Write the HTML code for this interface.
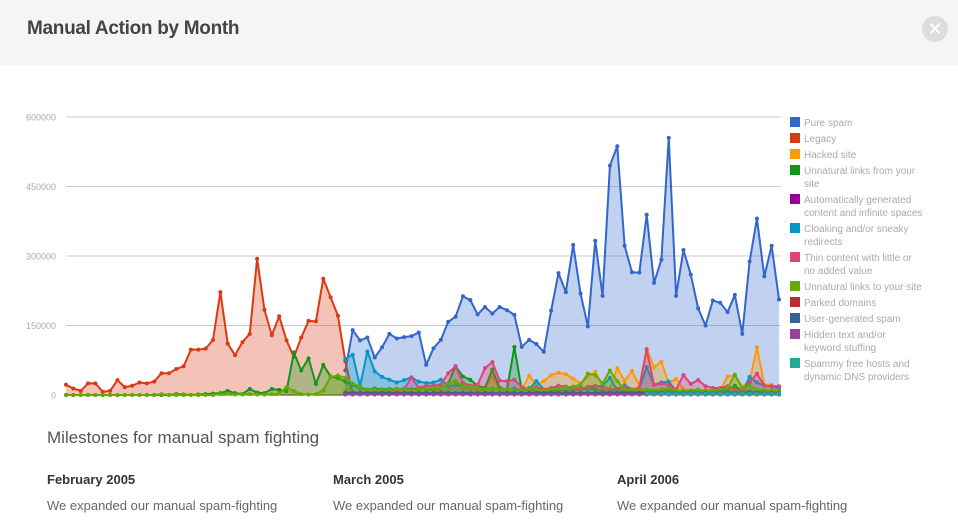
<!DOCTYPE html>
<html><head><meta charset="utf-8"><style>
body{margin:0;width:958px;height:527px;overflow:hidden;background:#fff;font-family:"Liberation Sans",sans-serif;position:relative}
#hdr{position:absolute;left:0;top:0;width:958px;height:65px;background:#f5f5f5}
#title{position:absolute;left:27px;top:18px;font-size:19px;font-weight:bold;color:#444;letter-spacing:-0.3px}
#close{position:absolute;left:922px;top:16px;width:26px;height:26px;border-radius:50%;background:#ddd;color:#fff;font-size:18px;line-height:26px;text-align:center}
#chart{position:absolute;left:0;top:0}
.ms{position:absolute;color:#555}
</style></head><body>
<div id="hdr">
<div id="title">Manual Action by Month</div>
<div id="close">✕</div>
</div>
<svg id="chart" width="958" height="410"></svg>
<div class="ms" style="left:47px;top:428px;font-size:17px;font-weight:300">Milestones for manual spam fighting</div>
<div class="ms" style="left:47px;top:472px;font-size:13px;font-weight:bold;color:#333">February 2005</div>
<div class="ms" style="left:333px;top:472px;font-size:13px;font-weight:bold;color:#333">March 2005</div>
<div class="ms" style="left:617px;top:472px;font-size:13px;font-weight:bold;color:#333">April 2006</div>
<div class="ms" style="left:47px;top:498px;font-size:13px;color:#666">We expanded our manual spam-fighting</div>
<div class="ms" style="left:333px;top:498px;font-size:13px;color:#666">We expanded our manual spam-fighting</div>
<div class="ms" style="left:617px;top:498px;font-size:13px;color:#666">We expanded our manual spam-fighting</div>
<script>
const yTicks=[0,150000,300000,450000,600000];
const seriesNames=["Pure spam","Legacy","Hacked site","Unnatural links from your site","Automatically generated content and infinite spaces","Cloaking and/or sneaky redirects","Thin content with little or no added value","Unnatural links to your site","Parked domains","User-generated spam","Hidden text and/or keyword stuffing","Spammy free hosts and dynamic DNS providers"];
const seriesColors=["#3366cc","#dc3912","#ff9900","#109618","#990099","#0099c6","#dd4477","#66aa00","#b82e2e","#316395","#994499","#22aa99"];
const pad=Array(38).fill(null);
const pureSpam=pad.concat([53,140,118,124,81,103,132,122,125,127,135,65,101,119,158,169,213,205,174,190,176,190,183,173,104,119,110,93,182,263,222,324,219,148,333,214,495,537,322,265,264,389,242,292,555,214,313,260,187,150,204,199,179,216,132,288,381,256,322,206]);
const legacy=[22,14,9,25,25,7,9,32,17,20,27,25,29,47,47,56,62,98,98,100,119,222,111,86,114,132,294,184,129,170,118,82,124,160,159,251,211,171,73,2];
const hacked=pad.concat([10,8,6,8,7,9,8,10,8,9,12,14,10,8,10,25,15,10,8,12,40,12,10,8,10,42,22,30,43,48,45,35,25,40,50,20,14,58,30,52,20,100,60,72,25,35,12,10,8,10,12,10,40,42,18,30,103,22,22,12]);
const unnaturalFrom=[0,0,0,0,0,0,0,0,0,0,0,0,0,0,0,2,1,0,1,2,3,4,9,4,2,13,5,4,13,11,8,92,53,79,24,65,40,37,29,22,15,12,14,12,13,12,14,12,14,12,13,15,25,62,40,33,20,15,55,15,12,104,10,15,8,10,8,10,9,10,12,14,12,8,8,10,8,9,8,10,8,9,10,8,8,7,8,9,8,9,12,20,8,8,7,6,6,6];
const autoGen=pad.concat([2,2,2,2,2,2,2,2,2,2,2,2,2,2,2,2,2,2,2,2,2,2,2,2,2,2,2,2,2,2,2,2,2,2,2,2,2,2,2,2,2,2,2,2,2,2,2,2,2,2,2,2,2,2,2,2,2,2,2,2]);
const cloaking=pad.concat([78,87,19,94,51,39,33,27,32,38,29,26,27,33,19,21,20,18,15,12,14,12,10,14,10,12,30,12,15,15,16,14,15,16,18,20,37,10,21,12,14,60,22,27,29,8,8,9,8,8,8,8,8,8,5,39,27,20,19,15]);
const thin=pad.concat([5,6,5,6,7,8,9,10,12,38,15,20,20,22,47,62,26,20,22,58,71,31,30,33,17,12,17,12,15,20,18,15,12,18,20,15,12,14,18,12,15,98,22,25,22,12,43,24,32,19,15,15,19,12,8,27,46,20,19,19]);
const unnaturalTo=[0,0,0,0,0,0,0,0,0,0,0,0,0,2,0,0,0,0,0,0,0,2,3,1,1,2,1,1,2,3,17,8,2,1,2,10,39,42,37,25,18,12,12,10,12,14,12,10,12,14,15,16,25,30,20,18,15,12,15,12,12,10,10,15,12,10,12,14,16,18,22,46,43,25,53,30,12,12,10,12,10,12,14,10,8,10,12,8,10,12,15,44,15,20,12,10,10,8];
const parked=pad.concat([3,3,4,3,3,4,3,3,4,3,3,4,3,4,3,3,4,3,3,4,3,3,4,3,3,4,3,3,4,3,3,4,3,3,4,3,3,4,3,3,4,3,3,4,3,3,4,3,3,4,3,3,4,3,3,4,3,3,4,3]);
const userGen=pad.concat([4,4,4,4,4,4,4,4,4,4,4,4,4,4,4,4,4,4,4,4,4,4,4,4,4,4,4,4,4,4,4,4,4,4,4,4,4,4,4,4,4,4,4,4,4,4,4,4,4,4,4,4,4,4,4,4,4,4,4,4]);
const hidden=pad.concat([1,1,1,1,1,1,1,1,1,1,1,1,1,1,1,1,1,1,1,1,1,1,1,1,1,1,1,1,1,1,1,1,1,1,1,1,1,1,1,1,1,1,1,1,1,1,1,1,1,1,1,1,1,1,1,1,1,1,1,1]);
const spammy=Array(79).fill(null).concat([3,3,3,3,3,3,3,3,3,3,3,3,3,3,3,3,3,3,3]);
const allSeries=[pureSpam,legacy,hacked,unnaturalFrom,autoGen,cloaking,thin,unnaturalTo,parked,userGen,hidden,spammy];
const NPTS=98, UNIT=1000;
const X0=66,X1=779,Y0=395,Y1=117,YMAX=600000;
const xs=i=>X0+i*(X1-X0)/(NPTS-1);
const ys=v=>Y0-(v/YMAX)*(Y0-Y1);
const svg=document.getElementById('chart');
const NS='http://www.w3.org/2000/svg';
function mk(t,a){const e=document.createElementNS(NS,t);for(const k in a)e.setAttribute(k,a[k]);svg.appendChild(e);return e;}
yTicks.forEach(t=>{
 const l=mk('line',{x1:X0,x2:781,y1:ys(t),y2:ys(t),stroke:t===0?'#333':'#ccc','stroke-width':1});
 
 
 const tx=mk('text',{x:56,y:ys(t)+3.5,'text-anchor':'end','font-size':9,fill:'#aaa','font-family':'Liberation Sans, sans-serif'});
 tx.textContent=String(t);
 
 
});
allSeries.forEach((s,si)=>{
 const c=seriesColors[si];
 let segs=[],cur=[];
 s.forEach((v,i)=>{if(v===null||v===undefined){if(cur.length)segs.push(cur);cur=[];}else cur.push([xs(i),ys(v*UNIT)]);});
 if(cur.length)segs.push(cur);
 segs.forEach(seg=>{
  const pts=seg.map(p=>p.join(',')).join(' ');
  const area=mk('polygon',{points:pts+' '+seg[seg.length-1][0]+','+Y0+' '+seg[0][0]+','+Y0,fill:c,'fill-opacity':0.3,stroke:'none'});
  
  
  const line=mk('polyline',{points:pts,fill:'none',stroke:c,'stroke-width':2,'stroke-linejoin':'round'});
  
  
  seg.forEach(p=>{
   const d=mk('circle',{cx:p[0],cy:p[1],r:2,fill:c});
   
   
  });
 });
});
const legendRows=[[0,122,["Pure spam"]],[1,138,["Legacy"]],[2,154,["Hacked site"]],[3,170,["Unnatural links from your","site"]],[4,199,["Automatically generated","content and infinite spaces"]],[5,228,["Cloaking and/or sneaky","redirects"]],[6,257,["Thin content with little or","no added value"]],[7,286,["Unnatural links to your site"]],[8,302,["Parked domains"]],[9,318,["User-generated spam"]],[10,334,["Hidden text and/or","keyword stuffing"]],[11,363,["Spammy free hosts and","dynamic DNS providers"]]];
legendRows.forEach(r=>{
 const sq=mk('rect',{x:790,y:r[1]-5,width:10,height:10,fill:seriesColors[r[0]]});
 
 
 r[2].forEach((t,j)=>{
  const tx=mk('text',{x:804,y:r[1]+4+j*13,'font-size':10,fill:'#aaa','font-family':'Liberation Sans, sans-serif'});
  tx.textContent=t;
  
  
 });
});
</script>
</body></html>
